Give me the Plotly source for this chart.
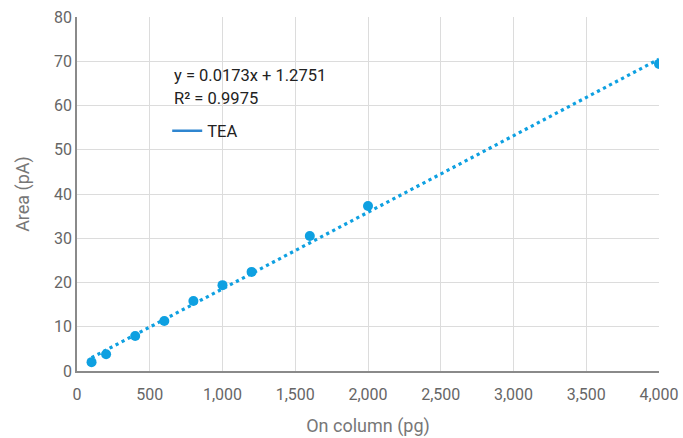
import plotly.graph_objects as go

# Data
on_column_pg = [100, 200, 400, 600, 800, 1000, 1200, 1600, 2000, 4000]
area_pa = [2.0, 3.8, 7.9, 11.3, 15.8, 19.4, 22.4, 30.5, 37.3, 69.4]
series_name = "TEA"
slope = 0.0173
intercept = 1.2751
r_squared = 0.9975
x_ticks = [0, 500, 1000, 1500, 2000, 2500, 3000, 3500, 4000]
y_ticks = [0, 10, 20, 30, 40, 50, 60, 70, 80]

trend_x = [on_column_pg[0], on_column_pg[-1]]
trend_y = [slope * v + intercept for v in trend_x]

point_color = "#0ea0e1"
legend_color = "#2f86d0"
font = "Roboto, Arial, sans-serif"
text_color = "#222222"

fig = go.Figure()
fig.add_trace(go.Scatter(
    x=trend_x, y=trend_y, mode="lines",
    line=dict(color=point_color, width=3.2, dash="3.2px,3.6px"),
    showlegend=False, hoverinfo="skip"))
fig.add_trace(go.Scatter(
    x=on_column_pg, y=area_pa, mode="markers",
    marker=dict(color=point_color, size=10),
    showlegend=False, name=series_name))
fig.add_trace(go.Scatter(
    x=[None], y=[None], mode="lines",
    line=dict(color=legend_color, width=2.5),
    name=series_name, showlegend=True))

# white box behind equation + legend (hides gridlines)
fig.add_shape(type="rect", xref="paper", yref="paper",
              x0=0.148, x1=0.4945, y0=0.628, y1=0.879,
              fillcolor="white", line=dict(width=0), layer="between")

fig.add_annotation(xref="paper", yref="paper", x=0.163, y=0.836,
                   xanchor="left", yanchor="middle", showarrow=False,
                   text=f"y = {slope}x + {intercept}",
                   font=dict(family=font, size=16.5, color=text_color))
fig.add_annotation(xref="paper", yref="paper", x=0.163, y=0.771,
                   xanchor="left", yanchor="middle", showarrow=False,
                   text=f"R² = {r_squared}",
                   font=dict(family=font, size=16.5, color=text_color))

fig.update_layout(
    width=683, height=438,
    margin=dict(l=77, r=24, t=17, b=67, autoexpand=False),
    paper_bgcolor="white", plot_bgcolor="white",
    font=dict(family=font, size=16, color="#666666"),
    legend=dict(
        x=0.155, y=0.678, xanchor="left", yanchor="middle",
        bgcolor="rgba(0,0,0,0)", borderwidth=0,
        font=dict(family=font, size=16.5, color=text_color),
        itemwidth=30,
    ),
    xaxis=dict(
        range=[0, 4000], tickvals=x_ticks, tickformat=",",
        showgrid=True, gridcolor="#dcdcdc", gridwidth=1,
        showline=True, linecolor="#8a8a8a", linewidth=1.5,
        zeroline=False, ticks="", automargin=False, ticklabelstandoff=8,
        tickfont=dict(size=16, color="#666666"),
        title=dict(text="On column (pg)", font=dict(size=18, color="#777777"), standoff=16),
    ),
    yaxis=dict(
        range=[0, 80], tickvals=y_ticks,
        showgrid=True, gridcolor="#dcdcdc", gridwidth=1,
        showline=True, linecolor="#8a8a8a", linewidth=1.5,
        zeroline=False, ticks="", automargin=False,
        tickfont=dict(size=16, color="#666666"),
        title=dict(text="Area (pA)", font=dict(size=18, color="#777777"), standoff=20),
    ),
)

fig.write_html("out.html")
